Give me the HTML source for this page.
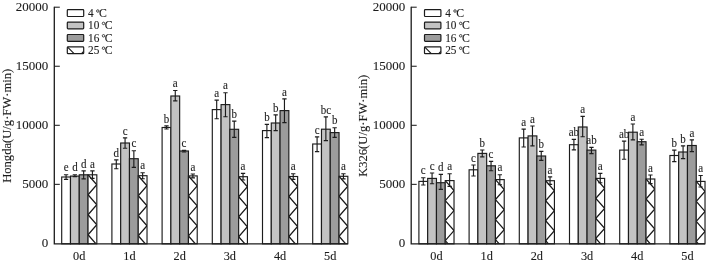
<!DOCTYPE html>
<html><head><meta charset="utf-8"><style>
html,body{margin:0;padding:0;background:#fff;width:708px;height:263px;overflow:hidden}
svg{display:block;will-change:transform}
text{font-family:"Liberation Serif", serif;fill:#1c1c1c;stroke:#1c1c1c;stroke-width:0.1px}
.lab{font-size:11px;text-anchor:middle}
.tick{font-size:13px;text-anchor:end}
.xl{font-size:12.3px;text-anchor:middle}
.yl{font-size:12.6px;text-anchor:middle}
.lg{font-size:11.3px}
</style></head><body>
<svg width="708" height="263" viewBox="0 0 708 263">
<rect width="708" height="263" fill="#fff"/>
<rect x="61.7" y="177" width="8.78" height="66.8" fill="#ffffff"/>
<rect x="61.7" y="177" width="8.78" height="66.8" fill="none" stroke="#1c1c1c" stroke-width="1.15"/>
<path d="M66.09 174.7V179.4M63.94 174.7H68.24M63.94 179.4H68.24" stroke="#1c1c1c" stroke-width="1.15" fill="none"/>
<text transform="translate(66.09,171.4) scale(1,1.06)" class="lab">e</text>
<rect x="70.48" y="176.1" width="8.78" height="67.7" fill="#c3c3c3"/>
<rect x="70.48" y="176.1" width="8.78" height="67.7" fill="none" stroke="#1c1c1c" stroke-width="1.15"/>
<path d="M74.87 174.7V176.6M72.72 174.7H77.02M72.72 176.6H77.02" stroke="#1c1c1c" stroke-width="1.15" fill="none"/>
<text transform="translate(74.87,171.4) scale(1,1.06)" class="lab">d</text>
<rect x="79.26" y="174.8" width="8.78" height="69" fill="#9c9c9c"/>
<rect x="79.26" y="174.8" width="8.78" height="69" fill="none" stroke="#1c1c1c" stroke-width="1.15"/>
<path d="M83.65 170.8V178.9M81.5 170.8H85.8M81.5 178.9H85.8" stroke="#1c1c1c" stroke-width="1.15" fill="none"/>
<text transform="translate(83.65,167.5) scale(1,1.06)" class="lab">d</text>
<rect x="88.04" y="174.8" width="8.78" height="69" fill="#ffffff"/>
<clipPath id="c0"><rect x="88.04" y="174.8" width="8.78" height="69"/></clipPath>
<polyline clip-path="url(#c0)" points="88.04,174.8 96.82,184.8 88.04,194.8 96.82,204.8 88.04,214.8 96.82,224.8 88.04,234.8 96.82,244.8" fill="none" stroke="#1c1c1c" stroke-width="1.3"/>
<rect x="88.04" y="174.8" width="8.78" height="69" fill="none" stroke="#1c1c1c" stroke-width="1.15"/>
<path d="M92.43 170.8V178.4M90.28 170.8H94.58M90.28 178.4H94.58" stroke="#1c1c1c" stroke-width="1.15" fill="none"/>
<text transform="translate(92.43,167.5) scale(1,1.06)" class="lab">a</text>
<rect x="111.9" y="164" width="8.78" height="79.8" fill="#ffffff"/>
<rect x="111.9" y="164" width="8.78" height="79.8" fill="none" stroke="#1c1c1c" stroke-width="1.15"/>
<path d="M116.29 159.8V168.7M114.14 159.8H118.44M114.14 168.7H118.44" stroke="#1c1c1c" stroke-width="1.15" fill="none"/>
<text transform="translate(116.29,156.5) scale(1,1.06)" class="lab">d</text>
<rect x="120.68" y="143" width="8.78" height="100.8" fill="#c3c3c3"/>
<rect x="120.68" y="143" width="8.78" height="100.8" fill="none" stroke="#1c1c1c" stroke-width="1.15"/>
<path d="M125.07 137.8V148.2M122.92 137.8H127.22M122.92 148.2H127.22" stroke="#1c1c1c" stroke-width="1.15" fill="none"/>
<text transform="translate(125.07,134.5) scale(1,1.06)" class="lab">c</text>
<rect x="129.46" y="158.7" width="8.78" height="85.1" fill="#9c9c9c"/>
<rect x="129.46" y="158.7" width="8.78" height="85.1" fill="none" stroke="#1c1c1c" stroke-width="1.15"/>
<path d="M133.85 150.7V167.3M131.7 150.7H136M131.7 167.3H136" stroke="#1c1c1c" stroke-width="1.15" fill="none"/>
<text transform="translate(133.85,147.4) scale(1,1.06)" class="lab">c</text>
<rect x="138.24" y="175.7" width="8.78" height="68.1" fill="#ffffff"/>
<clipPath id="c1"><rect x="138.24" y="175.7" width="8.78" height="68.1"/></clipPath>
<polyline clip-path="url(#c1)" points="138.24,175.7 147.02,185.7 138.24,195.7 147.02,205.7 138.24,215.7 147.02,225.7 138.24,235.7 147.02,245.7" fill="none" stroke="#1c1c1c" stroke-width="1.3"/>
<rect x="138.24" y="175.7" width="8.78" height="68.1" fill="none" stroke="#1c1c1c" stroke-width="1.15"/>
<path d="M142.63 172.7V178.7M140.48 172.7H144.78M140.48 178.7H144.78" stroke="#1c1c1c" stroke-width="1.15" fill="none"/>
<text transform="translate(142.63,169.4) scale(1,1.06)" class="lab">a</text>
<rect x="162.1" y="127.5" width="8.78" height="116.3" fill="#ffffff"/>
<rect x="162.1" y="127.5" width="8.78" height="116.3" fill="none" stroke="#1c1c1c" stroke-width="1.15"/>
<path d="M166.49 125.8V129M164.34 125.8H168.64M164.34 129H168.64" stroke="#1c1c1c" stroke-width="1.15" fill="none"/>
<text transform="translate(166.49,122.5) scale(1,1.06)" class="lab">b</text>
<rect x="170.88" y="96" width="8.78" height="147.8" fill="#c3c3c3"/>
<rect x="170.88" y="96" width="8.78" height="147.8" fill="none" stroke="#1c1c1c" stroke-width="1.15"/>
<path d="M175.27 90.5V100.8M173.12 90.5H177.42M173.12 100.8H177.42" stroke="#1c1c1c" stroke-width="1.15" fill="none"/>
<text transform="translate(175.27,87.2) scale(1,1.06)" class="lab">a</text>
<rect x="179.66" y="151" width="8.78" height="92.8" fill="#9c9c9c"/>
<rect x="179.66" y="151" width="8.78" height="92.8" fill="none" stroke="#1c1c1c" stroke-width="1.15"/>
<path d="M184.05 150.3V152M181.9 150.3H186.2M181.9 152H186.2" stroke="#1c1c1c" stroke-width="1.15" fill="none"/>
<text transform="translate(184.05,147) scale(1,1.06)" class="lab">c</text>
<rect x="188.44" y="175.9" width="8.78" height="67.9" fill="#ffffff"/>
<clipPath id="c2"><rect x="188.44" y="175.9" width="8.78" height="67.9"/></clipPath>
<polyline clip-path="url(#c2)" points="188.44,175.9 197.22,185.9 188.44,195.9 197.22,205.9 188.44,215.9 197.22,225.9 188.44,235.9 197.22,245.9" fill="none" stroke="#1c1c1c" stroke-width="1.3"/>
<rect x="188.44" y="175.9" width="8.78" height="67.9" fill="none" stroke="#1c1c1c" stroke-width="1.15"/>
<path d="M192.83 174V177.8M190.68 174H194.98M190.68 177.8H194.98" stroke="#1c1c1c" stroke-width="1.15" fill="none"/>
<text transform="translate(192.83,170.7) scale(1,1.06)" class="lab">a</text>
<rect x="212.3" y="109.6" width="8.78" height="134.2" fill="#ffffff"/>
<rect x="212.3" y="109.6" width="8.78" height="134.2" fill="none" stroke="#1c1c1c" stroke-width="1.15"/>
<path d="M216.69 100.1V118.7M214.54 100.1H218.84M214.54 118.7H218.84" stroke="#1c1c1c" stroke-width="1.15" fill="none"/>
<text transform="translate(216.69,96.8) scale(1,1.06)" class="lab">a</text>
<rect x="221.08" y="104.6" width="8.78" height="139.2" fill="#c3c3c3"/>
<rect x="221.08" y="104.6" width="8.78" height="139.2" fill="none" stroke="#1c1c1c" stroke-width="1.15"/>
<path d="M225.47 92.7V116.7M223.32 92.7H227.62M223.32 116.7H227.62" stroke="#1c1c1c" stroke-width="1.15" fill="none"/>
<text transform="translate(225.47,89.4) scale(1,1.06)" class="lab">a</text>
<rect x="229.86" y="129.3" width="8.78" height="114.5" fill="#9c9c9c"/>
<rect x="229.86" y="129.3" width="8.78" height="114.5" fill="none" stroke="#1c1c1c" stroke-width="1.15"/>
<path d="M234.25 121.1V137.3M232.1 121.1H236.4M232.1 137.3H236.4" stroke="#1c1c1c" stroke-width="1.15" fill="none"/>
<text transform="translate(234.25,117.8) scale(1,1.06)" class="lab">b</text>
<rect x="238.64" y="176.7" width="8.78" height="67.1" fill="#ffffff"/>
<clipPath id="c3"><rect x="238.64" y="176.7" width="8.78" height="67.1"/></clipPath>
<polyline clip-path="url(#c3)" points="238.64,176.7 247.42,186.7 238.64,196.7 247.42,206.7 238.64,216.7 247.42,226.7 238.64,236.7 247.42,246.7" fill="none" stroke="#1c1c1c" stroke-width="1.3"/>
<rect x="238.64" y="176.7" width="8.78" height="67.1" fill="none" stroke="#1c1c1c" stroke-width="1.15"/>
<path d="M243.03 173.4V180M240.88 173.4H245.18M240.88 180H245.18" stroke="#1c1c1c" stroke-width="1.15" fill="none"/>
<text transform="translate(243.03,170.1) scale(1,1.06)" class="lab">a</text>
<rect x="262.5" y="130.6" width="8.78" height="113.2" fill="#ffffff"/>
<rect x="262.5" y="130.6" width="8.78" height="113.2" fill="none" stroke="#1c1c1c" stroke-width="1.15"/>
<path d="M266.89 124.4V137.6M264.74 124.4H269.04M264.74 137.6H269.04" stroke="#1c1c1c" stroke-width="1.15" fill="none"/>
<text transform="translate(266.89,121.1) scale(1,1.06)" class="lab">b</text>
<rect x="271.28" y="123" width="8.78" height="120.8" fill="#c3c3c3"/>
<rect x="271.28" y="123" width="8.78" height="120.8" fill="none" stroke="#1c1c1c" stroke-width="1.15"/>
<path d="M275.67 114.8V130.6M273.52 114.8H277.82M273.52 130.6H277.82" stroke="#1c1c1c" stroke-width="1.15" fill="none"/>
<text transform="translate(275.67,111.5) scale(1,1.06)" class="lab">b</text>
<rect x="280.06" y="110.6" width="8.78" height="133.2" fill="#9c9c9c"/>
<rect x="280.06" y="110.6" width="8.78" height="133.2" fill="none" stroke="#1c1c1c" stroke-width="1.15"/>
<path d="M284.45 98.9V122.6M282.3 98.9H286.6M282.3 122.6H286.6" stroke="#1c1c1c" stroke-width="1.15" fill="none"/>
<text transform="translate(284.45,95.6) scale(1,1.06)" class="lab">a</text>
<rect x="288.84" y="176.5" width="8.78" height="67.3" fill="#ffffff"/>
<clipPath id="c4"><rect x="288.84" y="176.5" width="8.78" height="67.3"/></clipPath>
<polyline clip-path="url(#c4)" points="288.84,176.5 297.62,186.5 288.84,196.5 297.62,206.5 288.84,216.5 297.62,226.5 288.84,236.5 297.62,246.5" fill="none" stroke="#1c1c1c" stroke-width="1.3"/>
<rect x="288.84" y="176.5" width="8.78" height="67.3" fill="none" stroke="#1c1c1c" stroke-width="1.15"/>
<path d="M293.23 173.7V179.3M291.08 173.7H295.38M291.08 179.3H295.38" stroke="#1c1c1c" stroke-width="1.15" fill="none"/>
<text transform="translate(293.23,170.4) scale(1,1.06)" class="lab">a</text>
<rect x="312.7" y="144" width="8.78" height="99.8" fill="#ffffff"/>
<rect x="312.7" y="144" width="8.78" height="99.8" fill="none" stroke="#1c1c1c" stroke-width="1.15"/>
<path d="M317.09 136.8V151.6M314.94 136.8H319.24M314.94 151.6H319.24" stroke="#1c1c1c" stroke-width="1.15" fill="none"/>
<text transform="translate(317.09,133.5) scale(1,1.06)" class="lab">c</text>
<rect x="321.48" y="129.2" width="8.78" height="114.6" fill="#c3c3c3"/>
<rect x="321.48" y="129.2" width="8.78" height="114.6" fill="none" stroke="#1c1c1c" stroke-width="1.15"/>
<path d="M325.87 116.9V140.6M323.72 116.9H328.02M323.72 140.6H328.02" stroke="#1c1c1c" stroke-width="1.15" fill="none"/>
<text transform="translate(325.87,113.6) scale(1,1.06)" class="lab">bc</text>
<rect x="330.26" y="132.6" width="8.78" height="111.2" fill="#9c9c9c"/>
<rect x="330.26" y="132.6" width="8.78" height="111.2" fill="none" stroke="#1c1c1c" stroke-width="1.15"/>
<path d="M334.65 127.7V137.4M332.5 127.7H336.8M332.5 137.4H336.8" stroke="#1c1c1c" stroke-width="1.15" fill="none"/>
<text transform="translate(334.65,124.4) scale(1,1.06)" class="lab">b</text>
<rect x="339.04" y="176.3" width="8.78" height="67.5" fill="#ffffff"/>
<clipPath id="c5"><rect x="339.04" y="176.3" width="8.78" height="67.5"/></clipPath>
<polyline clip-path="url(#c5)" points="339.04,176.3 347.82,186.3 339.04,196.3 347.82,206.3 339.04,216.3 347.82,226.3 339.04,236.3 347.82,246.3" fill="none" stroke="#1c1c1c" stroke-width="1.3"/>
<rect x="339.04" y="176.3" width="8.78" height="67.5" fill="none" stroke="#1c1c1c" stroke-width="1.15"/>
<path d="M343.43 173.7V178.9M341.28 173.7H345.58M341.28 178.9H345.58" stroke="#1c1c1c" stroke-width="1.15" fill="none"/>
<text transform="translate(343.43,170.4) scale(1,1.06)" class="lab">a</text>
<path d="M54.3 6.7V243.8H347.82" stroke="#1c1c1c" stroke-width="1.3" fill="none"/>
<text transform="translate(48.3,247.3) scale(1,1.03)" class="tick">0</text>
<path d="M54.3 184.35H59.8" stroke="#1c1c1c" stroke-width="1.05"/>
<text transform="translate(48.3,188.25) scale(1,1.03)" class="tick">5000</text>
<path d="M54.3 125.3H59.8" stroke="#1c1c1c" stroke-width="1.05"/>
<text transform="translate(48.3,129.2) scale(1,1.03)" class="tick">10000</text>
<path d="M54.3 66.25H59.8" stroke="#1c1c1c" stroke-width="1.05"/>
<text transform="translate(48.3,70.15) scale(1,1.03)" class="tick">15000</text>
<path d="M54.3 7.2H59.8" stroke="#1c1c1c" stroke-width="1.05"/>
<text transform="translate(48.3,11.1) scale(1,1.03)" class="tick">20000</text>
<text transform="translate(79.26,259.8) scale(1,1.07)" class="xl">0d</text>
<text transform="translate(129.46,259.8) scale(1,1.07)" class="xl">1d</text>
<text transform="translate(179.66,259.8) scale(1,1.07)" class="xl">2d</text>
<text transform="translate(229.86,259.8) scale(1,1.07)" class="xl">3d</text>
<text transform="translate(280.06,259.8) scale(1,1.07)" class="xl">4d</text>
<text transform="translate(330.26,259.8) scale(1,1.07)" class="xl">5d</text>
<text transform="translate(11.2,125.8) rotate(-90)" class="yl">Hongda(U/g·FW·min)</text>
<rect x="67.3" y="9.7" width="16.4" height="6.8" rx="0.8" fill="#ffffff" stroke="#1c1c1c" stroke-width="1.2"/>
<text transform="translate(88,16.8) scale(1,1.1)" class="lg">4</text>
<circle cx="97.8" cy="11" r="1.25" fill="none" stroke="#1c1c1c" stroke-width="0.8"/>
<text transform="translate(99.1,16.75) scale(1.04,1.08)" class="lg">C</text>
<rect x="67.3" y="22.1" width="16.4" height="6.8" rx="0.8" fill="#c3c3c3" stroke="#1c1c1c" stroke-width="1.2"/>
<text transform="translate(88,29.2) scale(1,1.1)" class="lg">10</text>
<circle cx="103.5" cy="23.4" r="1.25" fill="none" stroke="#1c1c1c" stroke-width="0.8"/>
<text transform="translate(104.8,29.15) scale(1.04,1.08)" class="lg">C</text>
<rect x="67.3" y="34.5" width="16.4" height="6.8" rx="0.8" fill="#9c9c9c" stroke="#1c1c1c" stroke-width="1.2"/>
<text transform="translate(88,41.6) scale(1,1.1)" class="lg">16</text>
<circle cx="103.5" cy="35.8" r="1.25" fill="none" stroke="#1c1c1c" stroke-width="0.8"/>
<text transform="translate(104.8,41.55) scale(1.04,1.08)" class="lg">C</text>
<rect x="67.3" y="46.9" width="16.4" height="6.8" rx="0.8" fill="#ffffff" stroke="#1c1c1c" stroke-width="1.2"/>
<path d="M67.6 47.1L74.1 53.7M81.5 53.7L83.6 51.5" stroke="#1c1c1c" stroke-width="1.1" fill="none"/>
<text transform="translate(88,54) scale(1,1.1)" class="lg">25</text>
<circle cx="103.5" cy="48.2" r="1.25" fill="none" stroke="#1c1c1c" stroke-width="0.8"/>
<text transform="translate(104.8,53.95) scale(1.04,1.08)" class="lg">C</text>
<rect x="418.9" y="181.4" width="8.78" height="62.4" fill="#ffffff"/>
<rect x="418.9" y="181.4" width="8.78" height="62.4" fill="none" stroke="#1c1c1c" stroke-width="1.15"/>
<path d="M423.29 177.7V185M421.14 177.7H425.44M421.14 185H425.44" stroke="#1c1c1c" stroke-width="1.15" fill="none"/>
<text transform="translate(423.29,174.4) scale(1,1.06)" class="lab">c</text>
<rect x="427.68" y="178.4" width="8.78" height="65.4" fill="#c3c3c3"/>
<rect x="427.68" y="178.4" width="8.78" height="65.4" fill="none" stroke="#1c1c1c" stroke-width="1.15"/>
<path d="M432.07 173V183.7M429.92 173H434.22M429.92 183.7H434.22" stroke="#1c1c1c" stroke-width="1.15" fill="none"/>
<text transform="translate(432.07,169.7) scale(1,1.06)" class="lab">c</text>
<rect x="436.46" y="182.7" width="8.78" height="61.1" fill="#9c9c9c"/>
<rect x="436.46" y="182.7" width="8.78" height="61.1" fill="none" stroke="#1c1c1c" stroke-width="1.15"/>
<path d="M440.85 174.4V189.4M438.7 174.4H443M438.7 189.4H443" stroke="#1c1c1c" stroke-width="1.15" fill="none"/>
<text transform="translate(440.85,171.1) scale(1,1.06)" class="lab">d</text>
<rect x="445.24" y="180.6" width="8.78" height="63.2" fill="#ffffff"/>
<clipPath id="c6"><rect x="445.24" y="180.6" width="8.78" height="63.2"/></clipPath>
<polyline clip-path="url(#c6)" points="445.24,180.6 454.02,190.6 445.24,200.6 454.02,210.6 445.24,220.6 454.02,230.6 445.24,240.6 454.02,250.6" fill="none" stroke="#1c1c1c" stroke-width="1.3"/>
<rect x="445.24" y="180.6" width="8.78" height="63.2" fill="none" stroke="#1c1c1c" stroke-width="1.15"/>
<path d="M449.63 173.7V186.3M447.48 173.7H451.78M447.48 186.3H451.78" stroke="#1c1c1c" stroke-width="1.15" fill="none"/>
<text transform="translate(449.63,170.4) scale(1,1.06)" class="lab">a</text>
<rect x="469.1" y="169.8" width="8.78" height="74" fill="#ffffff"/>
<rect x="469.1" y="169.8" width="8.78" height="74" fill="none" stroke="#1c1c1c" stroke-width="1.15"/>
<path d="M473.49 165V176M471.34 165H475.64M471.34 176H475.64" stroke="#1c1c1c" stroke-width="1.15" fill="none"/>
<text transform="translate(473.49,161.7) scale(1,1.06)" class="lab">c</text>
<rect x="477.88" y="153.4" width="8.78" height="90.4" fill="#c3c3c3"/>
<rect x="477.88" y="153.4" width="8.78" height="90.4" fill="none" stroke="#1c1c1c" stroke-width="1.15"/>
<path d="M482.27 150V156.8M480.12 150H484.42M480.12 156.8H484.42" stroke="#1c1c1c" stroke-width="1.15" fill="none"/>
<text transform="translate(482.27,146.7) scale(1,1.06)" class="lab">b</text>
<rect x="486.66" y="165.8" width="8.78" height="78" fill="#9c9c9c"/>
<rect x="486.66" y="165.8" width="8.78" height="78" fill="none" stroke="#1c1c1c" stroke-width="1.15"/>
<path d="M491.05 161.4V170.7M488.9 161.4H493.2M488.9 170.7H493.2" stroke="#1c1c1c" stroke-width="1.15" fill="none"/>
<text transform="translate(491.05,158.1) scale(1,1.06)" class="lab">c</text>
<rect x="495.44" y="179.6" width="8.78" height="64.2" fill="#ffffff"/>
<clipPath id="c7"><rect x="495.44" y="179.6" width="8.78" height="64.2"/></clipPath>
<polyline clip-path="url(#c7)" points="495.44,179.6 504.22,189.6 495.44,199.6 504.22,209.6 495.44,219.6 504.22,229.6 495.44,239.6 504.22,249.6" fill="none" stroke="#1c1c1c" stroke-width="1.3"/>
<rect x="495.44" y="179.6" width="8.78" height="64.2" fill="none" stroke="#1c1c1c" stroke-width="1.15"/>
<path d="M499.83 174.7V184.7M497.68 174.7H501.98M497.68 184.7H501.98" stroke="#1c1c1c" stroke-width="1.15" fill="none"/>
<text transform="translate(499.83,171.4) scale(1,1.06)" class="lab">a</text>
<rect x="519.3" y="137.9" width="8.78" height="105.9" fill="#ffffff"/>
<rect x="519.3" y="137.9" width="8.78" height="105.9" fill="none" stroke="#1c1c1c" stroke-width="1.15"/>
<path d="M523.69 129.1V147M521.54 129.1H525.84M521.54 147H525.84" stroke="#1c1c1c" stroke-width="1.15" fill="none"/>
<text transform="translate(523.69,125.8) scale(1,1.06)" class="lab">a</text>
<rect x="528.08" y="135.9" width="8.78" height="107.9" fill="#c3c3c3"/>
<rect x="528.08" y="135.9" width="8.78" height="107.9" fill="none" stroke="#1c1c1c" stroke-width="1.15"/>
<path d="M532.47 126V145.8M530.32 126H534.62M530.32 145.8H534.62" stroke="#1c1c1c" stroke-width="1.15" fill="none"/>
<text transform="translate(532.47,122.7) scale(1,1.06)" class="lab">a</text>
<rect x="536.86" y="156" width="8.78" height="87.8" fill="#9c9c9c"/>
<rect x="536.86" y="156" width="8.78" height="87.8" fill="none" stroke="#1c1c1c" stroke-width="1.15"/>
<path d="M541.25 151.4V160.4M539.1 151.4H543.4M539.1 160.4H543.4" stroke="#1c1c1c" stroke-width="1.15" fill="none"/>
<text transform="translate(541.25,148.1) scale(1,1.06)" class="lab">b</text>
<rect x="545.64" y="180.7" width="8.78" height="63.1" fill="#ffffff"/>
<clipPath id="c8"><rect x="545.64" y="180.7" width="8.78" height="63.1"/></clipPath>
<polyline clip-path="url(#c8)" points="545.64,180.7 554.42,190.7 545.64,200.7 554.42,210.7 545.64,220.7 554.42,230.7 545.64,240.7 554.42,250.7" fill="none" stroke="#1c1c1c" stroke-width="1.3"/>
<rect x="545.64" y="180.7" width="8.78" height="63.1" fill="none" stroke="#1c1c1c" stroke-width="1.15"/>
<path d="M550.03 176.9V184.4M547.88 176.9H552.18M547.88 184.4H552.18" stroke="#1c1c1c" stroke-width="1.15" fill="none"/>
<text transform="translate(550.03,173.6) scale(1,1.06)" class="lab">a</text>
<rect x="569.5" y="144.7" width="8.78" height="99.1" fill="#ffffff"/>
<rect x="569.5" y="144.7" width="8.78" height="99.1" fill="none" stroke="#1c1c1c" stroke-width="1.15"/>
<path d="M573.89 139.4V149.8M571.74 139.4H576.04M571.74 149.8H576.04" stroke="#1c1c1c" stroke-width="1.15" fill="none"/>
<text transform="translate(573.89,136.1) scale(1,1.06)" class="lab">ab</text>
<rect x="578.28" y="127" width="8.78" height="116.8" fill="#c3c3c3"/>
<rect x="578.28" y="127" width="8.78" height="116.8" fill="none" stroke="#1c1c1c" stroke-width="1.15"/>
<path d="M582.67 116.4V136.7M580.52 116.4H584.82M580.52 136.7H584.82" stroke="#1c1c1c" stroke-width="1.15" fill="none"/>
<text transform="translate(582.67,113.1) scale(1,1.06)" class="lab">a</text>
<rect x="587.06" y="150.1" width="8.78" height="93.7" fill="#9c9c9c"/>
<rect x="587.06" y="150.1" width="8.78" height="93.7" fill="none" stroke="#1c1c1c" stroke-width="1.15"/>
<path d="M591.45 147.4V153.6M589.3 147.4H593.6M589.3 153.6H593.6" stroke="#1c1c1c" stroke-width="1.15" fill="none"/>
<text transform="translate(591.45,144.1) scale(1,1.06)" class="lab">ab</text>
<rect x="595.84" y="178.4" width="8.78" height="65.4" fill="#ffffff"/>
<clipPath id="c9"><rect x="595.84" y="178.4" width="8.78" height="65.4"/></clipPath>
<polyline clip-path="url(#c9)" points="595.84,178.4 604.62,188.4 595.84,198.4 604.62,208.4 595.84,218.4 604.62,228.4 595.84,238.4 604.62,248.4" fill="none" stroke="#1c1c1c" stroke-width="1.3"/>
<rect x="595.84" y="178.4" width="8.78" height="65.4" fill="none" stroke="#1c1c1c" stroke-width="1.15"/>
<path d="M600.23 173.3V182.7M598.08 173.3H602.38M598.08 182.7H602.38" stroke="#1c1c1c" stroke-width="1.15" fill="none"/>
<text transform="translate(600.23,170) scale(1,1.06)" class="lab">a</text>
<rect x="619.7" y="150.1" width="8.78" height="93.7" fill="#ffffff"/>
<rect x="619.7" y="150.1" width="8.78" height="93.7" fill="none" stroke="#1c1c1c" stroke-width="1.15"/>
<path d="M624.09 141.1V159.2M621.94 141.1H626.24M621.94 159.2H626.24" stroke="#1c1c1c" stroke-width="1.15" fill="none"/>
<text transform="translate(624.09,137.8) scale(1,1.06)" class="lab">ab</text>
<rect x="628.48" y="132.2" width="8.78" height="111.6" fill="#c3c3c3"/>
<rect x="628.48" y="132.2" width="8.78" height="111.6" fill="none" stroke="#1c1c1c" stroke-width="1.15"/>
<path d="M632.87 124V139.8M630.72 124H635.02M630.72 139.8H635.02" stroke="#1c1c1c" stroke-width="1.15" fill="none"/>
<text transform="translate(632.87,120.7) scale(1,1.06)" class="lab">a</text>
<rect x="637.26" y="141.7" width="8.78" height="102.1" fill="#9c9c9c"/>
<rect x="637.26" y="141.7" width="8.78" height="102.1" fill="none" stroke="#1c1c1c" stroke-width="1.15"/>
<path d="M641.65 139.2V144.9M639.5 139.2H643.8M639.5 144.9H643.8" stroke="#1c1c1c" stroke-width="1.15" fill="none"/>
<text transform="translate(641.65,135.9) scale(1,1.06)" class="lab">a</text>
<rect x="646.04" y="179" width="8.78" height="64.8" fill="#ffffff"/>
<clipPath id="c10"><rect x="646.04" y="179" width="8.78" height="64.8"/></clipPath>
<polyline clip-path="url(#c10)" points="646.04,179 654.82,189 646.04,199 654.82,209 646.04,219 654.82,229 646.04,239 654.82,249" fill="none" stroke="#1c1c1c" stroke-width="1.3"/>
<rect x="646.04" y="179" width="8.78" height="64.8" fill="none" stroke="#1c1c1c" stroke-width="1.15"/>
<path d="M650.43 175V183.6M648.28 175H652.58M648.28 183.6H652.58" stroke="#1c1c1c" stroke-width="1.15" fill="none"/>
<text transform="translate(650.43,171.7) scale(1,1.06)" class="lab">a</text>
<rect x="669.9" y="155.5" width="8.78" height="88.3" fill="#ffffff"/>
<rect x="669.9" y="155.5" width="8.78" height="88.3" fill="none" stroke="#1c1c1c" stroke-width="1.15"/>
<path d="M674.29 150.1V161.6M672.14 150.1H676.44M672.14 161.6H676.44" stroke="#1c1c1c" stroke-width="1.15" fill="none"/>
<text transform="translate(674.29,146.8) scale(1,1.06)" class="lab">b</text>
<rect x="678.68" y="152" width="8.78" height="91.8" fill="#c3c3c3"/>
<rect x="678.68" y="152" width="8.78" height="91.8" fill="none" stroke="#1c1c1c" stroke-width="1.15"/>
<path d="M683.07 145.9V158.6M680.92 145.9H685.22M680.92 158.6H685.22" stroke="#1c1c1c" stroke-width="1.15" fill="none"/>
<text transform="translate(683.07,142.6) scale(1,1.06)" class="lab">b</text>
<rect x="687.46" y="145.5" width="8.78" height="98.3" fill="#9c9c9c"/>
<rect x="687.46" y="145.5" width="8.78" height="98.3" fill="none" stroke="#1c1c1c" stroke-width="1.15"/>
<path d="M691.85 139.9V151.6M689.7 139.9H694M689.7 151.6H694" stroke="#1c1c1c" stroke-width="1.15" fill="none"/>
<text transform="translate(691.85,136.6) scale(1,1.06)" class="lab">a</text>
<rect x="696.24" y="181.4" width="8.78" height="62.4" fill="#ffffff"/>
<clipPath id="c11"><rect x="696.24" y="181.4" width="8.78" height="62.4"/></clipPath>
<polyline clip-path="url(#c11)" points="696.24,181.4 705.02,191.4 696.24,201.4 705.02,211.4 696.24,221.4 705.02,231.4 696.24,241.4 705.02,251.4" fill="none" stroke="#1c1c1c" stroke-width="1.3"/>
<rect x="696.24" y="181.4" width="8.78" height="62.4" fill="none" stroke="#1c1c1c" stroke-width="1.15"/>
<path d="M700.63 175.5V187M698.48 175.5H702.78M698.48 187H702.78" stroke="#1c1c1c" stroke-width="1.15" fill="none"/>
<text transform="translate(700.63,172.2) scale(1,1.06)" class="lab">a</text>
<path d="M411.2 6.7V243.8H705.02" stroke="#1c1c1c" stroke-width="1.3" fill="none"/>
<text transform="translate(405.2,247.3) scale(1,1.03)" class="tick">0</text>
<path d="M411.2 184.35H416.7" stroke="#1c1c1c" stroke-width="1.05"/>
<text transform="translate(405.2,188.25) scale(1,1.03)" class="tick">5000</text>
<path d="M411.2 125.3H416.7" stroke="#1c1c1c" stroke-width="1.05"/>
<text transform="translate(405.2,129.2) scale(1,1.03)" class="tick">10000</text>
<path d="M411.2 66.25H416.7" stroke="#1c1c1c" stroke-width="1.05"/>
<text transform="translate(405.2,70.15) scale(1,1.03)" class="tick">15000</text>
<path d="M411.2 7.2H416.7" stroke="#1c1c1c" stroke-width="1.05"/>
<text transform="translate(405.2,11.1) scale(1,1.03)" class="tick">20000</text>
<text transform="translate(436.46,259.8) scale(1,1.07)" class="xl">0d</text>
<text transform="translate(486.66,259.8) scale(1,1.07)" class="xl">1d</text>
<text transform="translate(536.86,259.8) scale(1,1.07)" class="xl">2d</text>
<text transform="translate(587.06,259.8) scale(1,1.07)" class="xl">3d</text>
<text transform="translate(637.26,259.8) scale(1,1.07)" class="xl">4d</text>
<text transform="translate(687.46,259.8) scale(1,1.07)" class="xl">5d</text>
<text transform="translate(367,125.8) rotate(-90)" class="yl">K326(U/g·FW·min)</text>
<rect x="424.5" y="9.7" width="16.4" height="6.8" rx="0.8" fill="#ffffff" stroke="#1c1c1c" stroke-width="1.2"/>
<text transform="translate(445.2,16.8) scale(1,1.1)" class="lg">4</text>
<circle cx="455" cy="11" r="1.25" fill="none" stroke="#1c1c1c" stroke-width="0.8"/>
<text transform="translate(456.3,16.75) scale(1.04,1.08)" class="lg">C</text>
<rect x="424.5" y="22.1" width="16.4" height="6.8" rx="0.8" fill="#c3c3c3" stroke="#1c1c1c" stroke-width="1.2"/>
<text transform="translate(445.2,29.2) scale(1,1.1)" class="lg">10</text>
<circle cx="460.7" cy="23.4" r="1.25" fill="none" stroke="#1c1c1c" stroke-width="0.8"/>
<text transform="translate(462,29.15) scale(1.04,1.08)" class="lg">C</text>
<rect x="424.5" y="34.5" width="16.4" height="6.8" rx="0.8" fill="#9c9c9c" stroke="#1c1c1c" stroke-width="1.2"/>
<text transform="translate(445.2,41.6) scale(1,1.1)" class="lg">16</text>
<circle cx="460.7" cy="35.8" r="1.25" fill="none" stroke="#1c1c1c" stroke-width="0.8"/>
<text transform="translate(462,41.55) scale(1.04,1.08)" class="lg">C</text>
<rect x="424.5" y="46.9" width="16.4" height="6.8" rx="0.8" fill="#ffffff" stroke="#1c1c1c" stroke-width="1.2"/>
<path d="M424.8 47.1L431.3 53.7M438.7 53.7L440.8 51.5" stroke="#1c1c1c" stroke-width="1.1" fill="none"/>
<text transform="translate(445.2,54) scale(1,1.1)" class="lg">25</text>
<circle cx="460.7" cy="48.2" r="1.25" fill="none" stroke="#1c1c1c" stroke-width="0.8"/>
<text transform="translate(462,53.95) scale(1.04,1.08)" class="lg">C</text>
</svg>
</body></html>
